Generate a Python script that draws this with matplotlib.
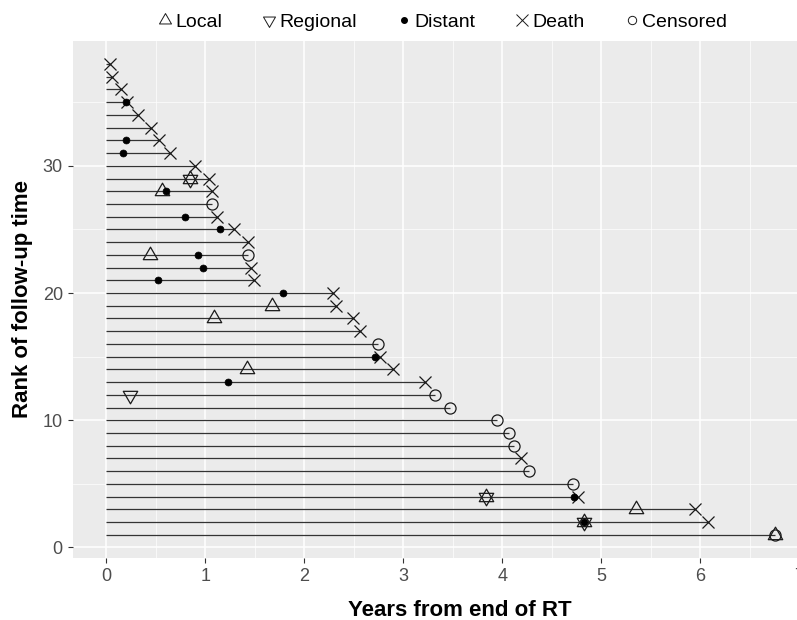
import numpy as np
import matplotlib
matplotlib.use('Agg')
import matplotlib.pyplot as plt
from matplotlib.lines import Line2D
from matplotlib.path import Path
from matplotlib.ticker import MultipleLocator

plt.rcParams['font.family'] = ['Liberation Sans', 'DejaVu Sans']

# ---- data (rank 1 = longest follow-up) ----
follow_up = [6.75, 6.08, 5.95, 4.76, 4.71, 4.27, 4.19, 4.12, 4.07, 3.95,
             3.47, 3.32, 3.22, 2.90, 2.76, 2.74, 2.56, 2.49, 2.32, 2.29,
             1.49, 1.46, 1.43, 1.43, 1.29, 1.12, 1.07, 1.07, 1.04, 0.90,
             0.64, 0.53, 0.45, 0.32, 0.21, 0.15, 0.06, 0.04]
status = ['C', 'D', 'D', 'D', 'C', 'C', 'D', 'C', 'C', 'C',
          'C', 'C', 'D', 'D', 'D', 'C', 'D', 'D', 'D', 'D',
          'D', 'D', 'C', 'D', 'D', 'D', 'C', 'D', 'D', 'D',
          'D', 'D', 'D', 'D', 'D', 'D', 'D', 'D']
local_rank = [1, 2, 3, 4, 14, 18, 19, 23, 28, 29]
local_time = [6.75, 4.82, 5.35, 3.84, 1.42, 1.09, 1.67, 0.44, 0.56, 0.85]
regional_rank = [2, 4, 12, 29]
regional_time = [4.82, 3.84, 0.24, 0.85]
distant_rank = [2, 4, 13, 15, 20, 21, 22, 23, 25, 26, 28, 31, 32, 35]
distant_time = [4.82, 4.72, 1.23, 2.71, 1.79, 0.52, 0.98, 0.93, 1.15, 0.80,
                0.60, 0.17, 0.20, 0.20]
legend_labels = ['Local', 'Regional', 'Distant', 'Death', 'Censored']
x_ticks = [0, 1, 2, 3, 4, 5, 6, 7]
y_ticks = [0, 10, 20, 30]

rank = np.arange(1, len(follow_up) + 1)
fu = np.array(follow_up)
st = np.array(status)

# centroid-centred equilateral triangles (as in ggplot shapes 2 and 6)
_a = np.deg2rad([90, 210, 330, 90])
tri_up = Path(np.column_stack([np.cos(_a), np.sin(_a)]), closed=True)
tri_dn = Path(np.column_stack([np.cos(_a), -np.sin(_a)]), closed=True)

W, H = 797, 620
fig = plt.figure(figsize=(W / 100, H / 100), dpi=100)
ax = fig.add_axes([72.5 / W, 61.7 / H, (848 - 72.5) / W, (558.3 - 40.5) / H])
ax.set_facecolor('#EBEBEB')
for s in ax.spines.values():
    s.set_visible(False)

ax.set_xlim(-0.34, 7.49)
ax.set_ylim(-0.85, 39.85)
ax.set_xticks(x_ticks)
ax.set_yticks(y_ticks)
ax.xaxis.set_minor_locator(MultipleLocator(0.5))
ax.yaxis.set_minor_locator(MultipleLocator(5))
ax.grid(which='major', color='white', lw=1.1)
ax.grid(which='minor', color='white', lw=0.5)
ax.set_axisbelow(True)
ax.tick_params(which='major', length=3.5, width=0.8, color='#333333',
               labelcolor='#4D4D4D', labelsize=13)
ax.tick_params(which='minor', length=0)

mk = '#1a1a1a'
ax.hlines(rank, 0, fu, color='#333333', lw=0.9, zorder=2)
ax.plot(local_time, local_rank, ls='none', marker=tri_up, ms=12, mfc='none',
        mec=mk, mew=0.9, zorder=3)
ax.plot(regional_time, regional_rank, ls='none', marker=tri_dn, ms=12, mfc='none',
        mec=mk, mew=0.9, zorder=3)
ax.plot(distant_time, distant_rank, ls='none', marker='o', ms=5, mfc='black',
        mec='black', mew=0.5, zorder=4)
d = st == 'D'
ax.plot(fu[d], rank[d], ls='none', marker='x', ms=9, mec=mk, mew=0.9, zorder=3)
c = st == 'C'
ax.plot(fu[c], rank[c], ls='none', marker='o', ms=8, mfc='none', mec=mk,
        mew=0.9, zorder=3)

ax.set_xlabel('Years from end of RT', fontsize=16, fontweight='bold', labelpad=11)
ax.set_ylabel('Rank of follow-up time', fontsize=16, fontweight='bold', labelpad=7)

handles = [
    Line2D([], [], ls='none', marker=tri_up, ms=10, mfc='none', mec=mk, mew=0.7),
    Line2D([], [], ls='none', marker=tri_dn, ms=10, mfc='none', mec=mk, mew=0.7),
    Line2D([], [], ls='none', marker='o', ms=4, mfc='black', mec='black'),
    Line2D([], [], ls='none', marker='x', ms=8, mec=mk, mew=0.7),
    Line2D([], [], ls='none', marker='o', ms=6, mfc='none', mec=mk, mew=0.7),
]
fig.legend(handles, legend_labels, loc='center', bbox_to_anchor=(442 / W, 1 - 22 / H),
           ncol=5, frameon=False, fontsize=14, handlelength=0.8,
           handletextpad=0.15, columnspacing=2.0, borderpad=0)

fig.savefig('out.png', dpi=100)
